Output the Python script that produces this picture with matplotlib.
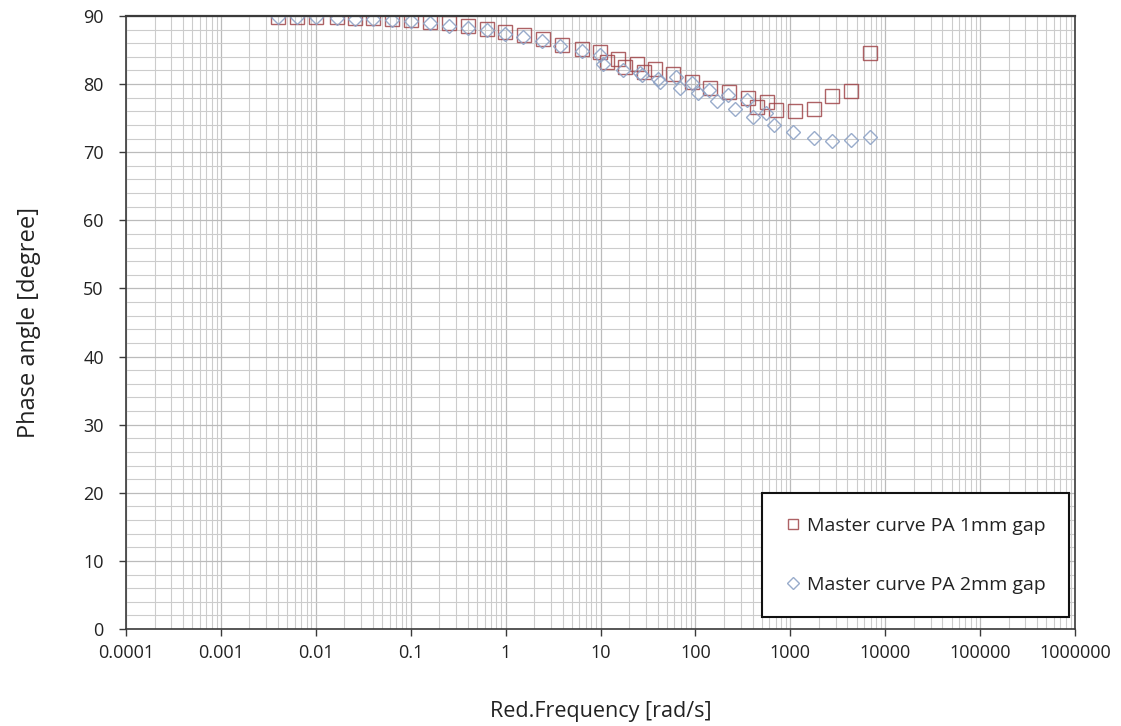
import numpy as np
import matplotlib
matplotlib.use("Agg")
import matplotlib.pyplot as plt
from matplotlib.ticker import FixedLocator, FuncFormatter, MultipleLocator, LogLocator, NullFormatter

plt.rcParams['font.family'] = ['Open Sans', 'DejaVu Sans']

# master curve, PA 1 mm gap (reduced frequency in rad/s, phase angle in degree)
freq_1mm = [0.004, 0.0063, 0.01, 0.0168, 0.0259, 0.0396, 0.0634, 0.1, 0.158, 0.251,
            0.398, 0.63, 0.99, 1.56, 2.48, 3.93, 6.38, 9.9, 11.6, 15.3, 18.0, 24.3,
            29.0, 37.5, 58.0, 92.0, 143.0, 226.0, 358.0, 446.0, 568.0, 707.0,
            1120.0, 1780.0, 2770.0, 4350.0, 6900.0]
phase_1mm = [89.8, 89.8, 89.8, 89.8, 89.7, 89.7, 89.6, 89.4, 89.1, 88.9,
             88.5, 88.1, 87.6, 87.2, 86.6, 85.8, 85.1, 84.7, 83.3, 83.7, 82.5, 83.0,
             81.8, 82.2, 81.5, 80.3, 79.4, 78.8, 77.9, 76.6, 77.4, 76.2,
             76.1, 76.3, 78.3, 79.0, 84.6]

# master curve, PA 2 mm gap
freq_2mm = [0.004, 0.0063, 0.01, 0.0168, 0.0259, 0.0396, 0.0634, 0.1, 0.158, 0.251,
            0.398, 0.63, 0.99, 1.52, 2.42, 3.73, 6.38, 9.9, 10.6, 17.3, 26.0, 27.4,
            40.0, 42.4, 62.0, 68.8, 91.0, 107.0, 139.0, 170.0, 219.0, 263.0,
            347.0, 407.0, 550.0, 675.0, 1070.0, 1780.0, 2770.0, 4350.0, 6900.0]
phase_2mm = [89.8, 89.8, 89.8, 89.7, 89.6, 89.5, 89.4, 89.2, 88.9, 88.6,
             88.3, 87.9, 87.4, 86.9, 86.3, 85.6, 84.9, 84.2, 83.0, 82.1, 81.6, 81.3,
             80.8, 80.3, 81.0, 79.4, 80.2, 78.7, 79.1, 77.5, 78.4, 76.3,
             77.7, 75.2, 75.8, 74.0, 73.0, 72.1, 71.6, 71.8, 72.3]

x_ticks = [1e-4, 1e-3, 1e-2, 1e-1, 1, 10, 100, 1000, 1e4, 1e5, 1e6]
x_labels = ["0.0001", "0.001", "0.01", "0.1", "1", "10", "100", "1000",
            "10000", "100000", "1000000"]
y_ticks = list(range(0, 91, 10))

fig = plt.figure(figsize=(11.21, 7.26), dpi=100)
ax = fig.add_axes([0.1124, 0.1336, 0.8466, 0.8444])

ax.plot(freq_1mm, phase_1mm, ls='none', marker='s', ms=9.5, mfc='none',
        mec='#a0464a', mew=1.0, alpha=0.85, label='Master curve PA 1mm gap')
ax.plot(freq_2mm, phase_2mm, ls='none', marker='D', ms=7.5, mfc='none',
        mec='#8ea3c6', mew=1.0, alpha=0.9, label='Master curve PA 2mm gap')

ax.set_xscale('log')
ax.set_xlim(1e-4, 1e6)
ax.set_ylim(0, 90)

ax.xaxis.set_major_locator(FixedLocator(x_ticks))
ax.xaxis.set_major_formatter(FuncFormatter(lambda v, p: x_labels[x_ticks.index(v)] if v in x_ticks else ""))
ax.xaxis.set_minor_locator(LogLocator(base=10, subs=np.arange(2, 10), numticks=100))
ax.xaxis.set_minor_formatter(NullFormatter())
ax.yaxis.set_major_locator(FixedLocator(y_ticks))
ax.yaxis.set_minor_locator(MultipleLocator(2))

ax.grid(which='major', color='#bbbbbb', lw=0.9)
ax.grid(which='minor', color='#cccccc', lw=0.8)
ax.set_axisbelow(True)

for s in ax.spines.values():
    s.set_color('#3a3a3a')
    s.set_linewidth(1.2)
ax.spines['top'].set_linewidth(1.6)

ax.tick_params(which='major', direction='out', length=5, width=1, color='#3a3a3a',
               labelsize=13, labelcolor='#222222')
ax.tick_params(axis='y', which='major', pad=11)
ax.tick_params(axis='x', which='major', pad=6)
ax.tick_params(which='minor', length=0)

ax.set_xlabel('Red.Frequency [rad/s]', fontsize=15.5, color='#222222', labelpad=28)
ax.set_ylabel('Phase angle [degree]', fontsize=17, color='#222222', labelpad=30)

leg = ax.legend(loc='lower right', bbox_to_anchor=(0.9937, 0.0196), borderaxespad=0,
                fontsize=14, markerscale=0.75, handlelength=0.8, handletextpad=0.3,
                labelspacing=2.1, borderpad=1.2, fancybox=False, framealpha=1)
leg.get_frame().set_edgecolor('#111111')
leg.get_frame().set_linewidth(1.5)
for t in leg.get_texts():
    t.set_color('#222222')

fig.savefig('out.png', dpi=100)
